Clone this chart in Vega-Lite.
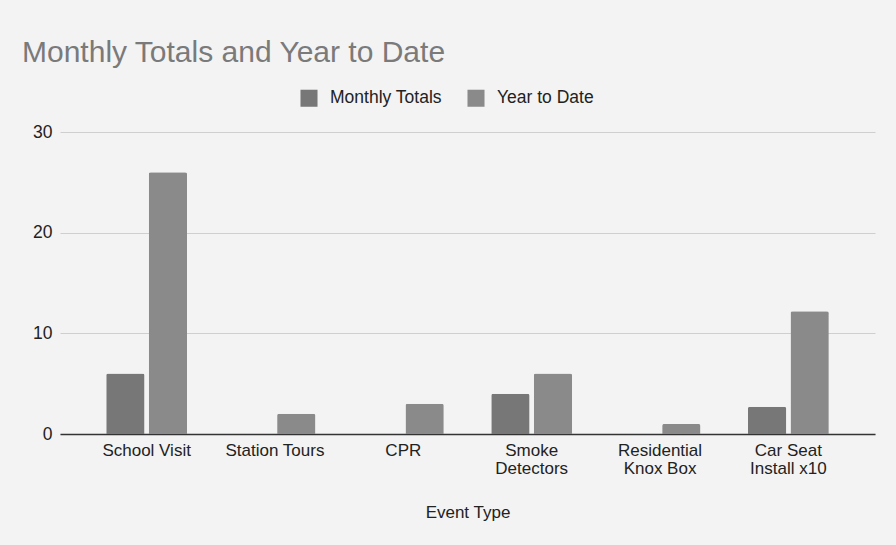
{
  "$schema": "https://vega.github.io/schema/vega-lite/v6.json",
  "autosize": "none",
  "width": 815,
  "height": 302,
  "padding": {"left": 60, "top": 132, "right": 21, "bottom": 111},
  "background": "#f3f3f3",
  "title": {
    "text": "Monthly Totals and Year to Date",
    "anchor": "start",
    "frame": "group",
    "dx": -38,
    "offset": 21,
    "font": "Liberation Sans",
    "fontSize": 30,
    "fontWeight": "normal",
    "color": "#7a7a7a"
  },
  "data": {
    "values": [
      {"event": "School Visit", "series": "Monthly Totals", "value": 6},
      {"event": "School Visit", "series": "Year to Date", "value": 26},
      {"event": "Station Tours", "series": "Monthly Totals", "value": 0},
      {"event": "Station Tours", "series": "Year to Date", "value": 2},
      {"event": "CPR", "series": "Monthly Totals", "value": 0},
      {"event": "CPR", "series": "Year to Date", "value": 3},
      {"event": "Smoke Detectors", "series": "Monthly Totals", "value": 4},
      {"event": "Smoke Detectors", "series": "Year to Date", "value": 6},
      {"event": "Residential Knox Box", "series": "Monthly Totals", "value": 0},
      {"event": "Residential Knox Box", "series": "Year to Date", "value": 1},
      {"event": "Car Seat Install x10", "series": "Monthly Totals", "value": 2.7},
      {"event": "Car Seat Install x10", "series": "Year to Date", "value": 12.2}
    ]
  },
  "mark": {"type": "bar", "cornerRadiusTopLeft": 2, "cornerRadiusTopRight": 2},
  "encoding": {
    "x": {
      "field": "event",
      "type": "nominal",
      "sort": null,
      "title": "Event Type",
      "scale": {"paddingInner": 0.37, "paddingOuter": 0.36},
      "axis": {
        "labelAngle": 0,
        "labelFont": "Liberation Sans",
        "labelFontSize": 17,
        "labelColor": "#222222",
        "labelLineHeight": 18,
        "labelPadding": 8,
        "ticks": false,
        "domainColor": "#333333",
        "domainWidth": 1.5,
        "titleFont": "Liberation Sans",
        "titleFontSize": 17,
        "titleFontWeight": "normal",
        "titleColor": "#222222",
        "titlePadding": 28,
        "labelExpr": "datum.label == 'Smoke Detectors' ? ['Smoke', 'Detectors'] : datum.label == 'Residential Knox Box' ? ['Residential', 'Knox Box'] : datum.label == 'Car Seat Install x10' ? ['Car Seat', 'Install x10'] : datum.label"
      }
    },
    "xOffset": {
      "field": "series",
      "type": "nominal",
      "scale": {"paddingInner": 0.1}
    },
    "y": {
      "field": "value",
      "type": "quantitative",
      "title": null,
      "scale": {"domain": [0, 30], "nice": false},
      "axis": {
        "values": [0, 10, 20, 30],
        "domain": false,
        "ticks": false,
        "labelFont": "Liberation Sans",
        "labelFontSize": 17.5,
        "labelColor": "#222222",
        "labelPadding": 8,
        "gridColor": "#cfcfcf",
        "gridWidth": 1
      }
    },
    "color": {
      "field": "series",
      "type": "nominal",
      "scale": {"domain": ["Monthly Totals", "Year to Date"], "range": ["#777777", "#8a8a8a"]},
      "legend": {
        "title": null,
        "orient": "none",
        "direction": "horizontal",
        "legendX": 240,
        "legendY": -43,
        "symbolType": "square",
        "symbolSize": 290,
        "symbolStrokeWidth": 0,
        "labelFont": "Liberation Sans",
        "labelFontSize": 17.5,
        "labelColor": "#222222",
        "labelOffset": 12,
        "columnPadding": 25
      }
    }
  },
  "config": {"view": {"stroke": null}}
}
